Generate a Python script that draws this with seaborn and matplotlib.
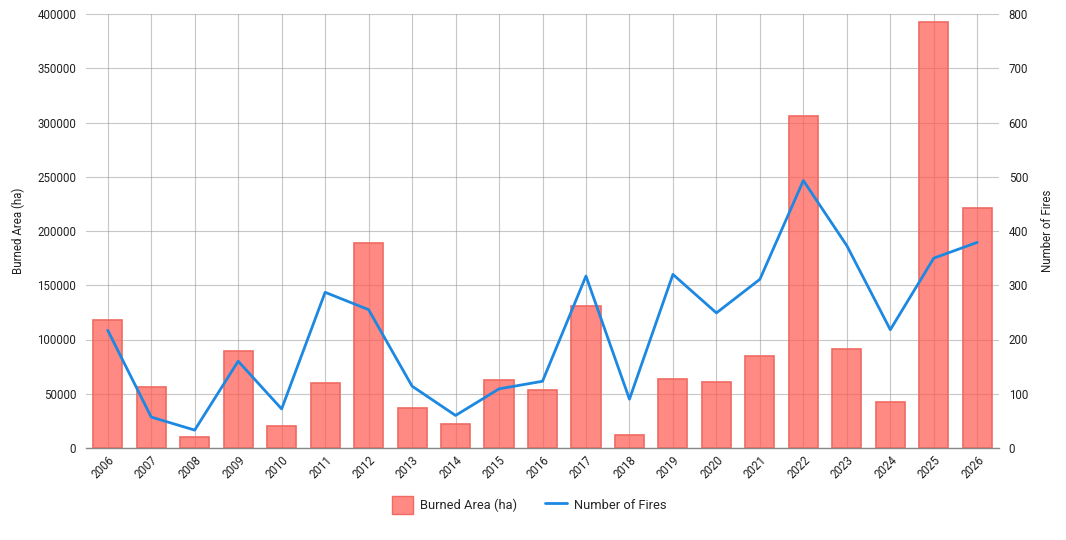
import numpy as np
import pandas as pd
import matplotlib
matplotlib.use("Agg")
import matplotlib.pyplot as plt
import seaborn as sns
from matplotlib.patches import FancyBboxPatch
from matplotlib.lines import Line2D

years = [str(y) for y in range(2006, 2027)]
burned_area = [118000, 56000, 10000, 89000, 20000, 60000, 189000, 37000, 22000,
               63000, 53000, 131000, 12000, 64000, 61000, 85000, 306000, 91000,
               42000, 393000, 221000]
num_fires = [217, 57, 33, 160, 72, 287, 255, 114, 60, 109, 123, 317, 90, 320,
             249, 311, 493, 373, 218, 350, 379]

df = pd.DataFrame({"Year": years, "Burned Area (ha)": burned_area,
                   "Number of Fires": num_fires})
df["pos"] = np.arange(len(df))

sns.set_theme(style="white")
plt.rcParams['font.family'] = ['Roboto', 'DejaVu Sans']

fig = plt.figure(figsize=(10.66, 5.4), dpi=100)
ax = fig.add_axes([86 / 1066, 1 - 448 / 540, (999 - 86) / 1066, (448 - 14) / 540])

bar_face = (1.0, 0.36, 0.33, 0.72)
sns.barplot(data=df, x="Year", y="Burned Area (ha)", ax=ax, width=0.67,
            color=bar_face, saturation=1, edgecolor="#F06A62", linewidth=1.2)
for p in ax.patches:
    p.set_facecolor(bar_face)

ax2 = ax.twinx()
sns.lineplot(data=df, x="pos", y="Number of Fires", ax=ax2, color="#1C88E2",
             linewidth=2)

ax.set_xlim(-0.5, len(years) - 0.5)
ax.set_ylim(0, 400000)
ax2.set_ylim(0, 800)
ax.set_yticks(np.arange(0, 400001, 50000))
ax2.set_yticks(np.arange(0, 801, 100))

ax.set_axisbelow(True)
ax.grid(True, axis="both", color="#999999", linewidth=0.8, alpha=0.55)
ax2.grid(False)

for a in (ax, ax2):
    for s in a.spines.values():
        s.set_visible(False)
ax.spines["bottom"].set_visible(True)
ax.spines["bottom"].set_color("#888888")
ax.spines["bottom"].set_linewidth(1)

ax.tick_params(axis="both", length=0, labelsize=8.3, colors="#222222")
ax2.tick_params(axis="y", length=0, labelsize=8.3, colors="#222222", pad=7)
ax.tick_params(axis="y", pad=7)
ax.tick_params(axis="x", pad=4)
plt.setp(ax.get_xticklabels(), rotation=45, ha="right", rotation_mode="anchor")

ax.set_xlabel("")
ax.set_ylabel("Burned Area (ha)", fontsize=8.3, color="#222222", labelpad=9)
ax2.set_ylabel("Number of Fires", fontsize=8.3, color="#222222", labelpad=9)

# legend
handles = [FancyBboxPatch((0, 0), 1, 1, boxstyle="round,pad=0,rounding_size=0.2",
                          facecolor=bar_face, edgecolor="#F06A62"),
           Line2D([0], [0], color="#1C88E2", linewidth=2)]
leg = fig.legend(handles, ["Burned Area (ha)", "Number of Fires"], loc="center",
                 bbox_to_anchor=(529 / 1066, 1 - 505 / 540), ncol=2, frameon=False,
                 fontsize=9.3, handlelength=1.7, handleheight=1.8, columnspacing=2.2,
                 handletextpad=0.5)

fig.savefig("out.png", dpi=100)
